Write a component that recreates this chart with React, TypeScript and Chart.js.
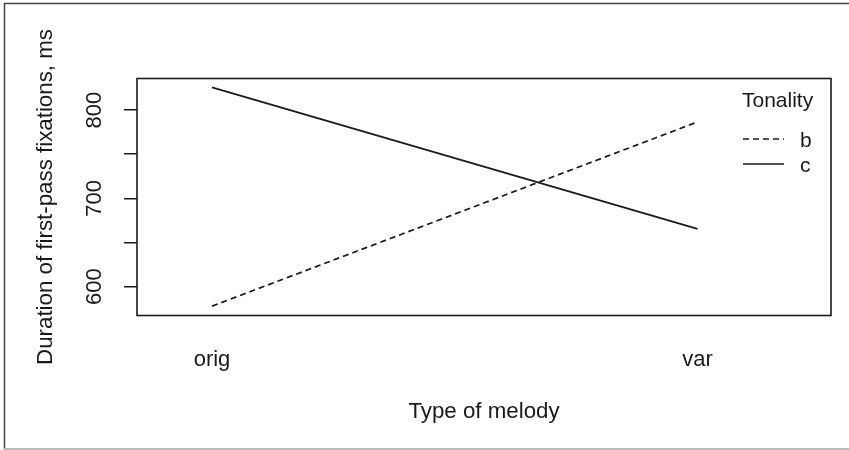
import React, { useEffect, useRef } from "react";
import { Chart, registerables } from "chart.js";

Chart.register(...registerables);

const categories = ["orig", "var"];
const seriesLabels = ["b", "c"];
const seriesB = [578, 786.5];
const seriesC = [825.7, 665.5];
const yTicks = [600, 650, 700, 750, 800];
const yLabelled = [600, 700, 800];
const legendTitle = "Tonality";
const xTitle = "Type of melody";
const yTitle = "Duration of first-pass fixations, ms";

const FONT = "'Liberation Sans', Arial, sans-serif";
const INK = "#1a1a1a";

const textPlugin = {
  id: "rText",
  afterDraw(chart: any) {
    const ctx = chart.ctx;
    const ca = chart.chartArea;
    const ys = chart.scales.y;
    const xs = chart.scales.x;
    ctx.save();
    // outer frame
    ctx.strokeStyle = "#444";
    ctx.lineWidth = 1.5;
    ctx.beginPath();
    ctx.moveTo(4.5, 450);
    ctx.lineTo(4.5, 3.5);
    ctx.lineTo(849, 3.5);
    ctx.stroke();
    ctx.strokeStyle = "#bbb";
    ctx.lineWidth = 2;
    ctx.beginPath();
    ctx.moveTo(4, 449);
    ctx.lineTo(849, 449);
    ctx.stroke();
    // plot box
    ctx.strokeStyle = INK;
    ctx.lineWidth = 1.6;
    ctx.strokeRect(ca.left, ca.top, ca.right - ca.left, ca.bottom - ca.top);
    ctx.fillStyle = INK;
    ctx.font = `22px ${FONT}`;
    // y tick labels, rotated
    ctx.textAlign = "center";
    ctx.textBaseline = "alphabetic";
    yLabelled.forEach((v) => {
      const py = ys.getPixelForValue(v);
      ctx.save();
      ctx.translate(101, py);
      ctx.rotate(-Math.PI / 2);
      ctx.fillText(String(v), 0, 0);
      ctx.restore();
    });
    // x tick labels
    categories.forEach((c, i) => {
      const px = xs.getPixelForValue(i + 1);
      ctx.fillText(c, px, 366);
    });
    // titles
    ctx.font = `22.3px ${FONT}`;
    ctx.fillText(xTitle, (ca.left + ca.right) / 2, 418);
    ctx.save();
    ctx.translate(52, (ca.top + ca.bottom) / 2);
    ctx.rotate(-Math.PI / 2);
    ctx.fillText(yTitle, 0, 0);
    ctx.restore();
    // legend
    ctx.font = `21px ${FONT}`;
    ctx.textAlign = "left";
    ctx.fillText(legendTitle, 742, 107);
    const rows = [139, 164];
    chart.data.datasets.forEach((ds: any, i: number) => {
      ctx.strokeStyle = INK;
      ctx.lineWidth = 1.7;
      ctx.setLineDash(ds.borderDash || []);
      ctx.beginPath();
      ctx.moveTo(743, rows[i]);
      ctx.lineTo(784, rows[i]);
      ctx.stroke();
      ctx.setLineDash([]);
      ctx.fillText(ds.label, 800, rows[i] + 7.5);
    });
    ctx.restore();
  },
};

export default function App() {
  const ref = useRef<HTMLCanvasElement | null>(null);
  useEffect(() => {
    if (!ref.current) return;
    const chart = new Chart(ref.current, {
      type: "line",
      data: {
        datasets: [
          {
            label: seriesLabels[0],
            data: seriesB.map((v, i) => ({ x: i + 1, y: v })),
            borderColor: INK,
            borderWidth: 1.7,
            borderDash: [6, 4],
            pointRadius: 0,
            fill: false,
          },
          {
            label: seriesLabels[1],
            data: seriesC.map((v, i) => ({ x: i + 1, y: v })),
            borderColor: INK,
            borderWidth: 1.7,
            pointRadius: 0,
            fill: false,
          },
        ],
      },
      options: {
        animation: false,
        responsive: false,
        devicePixelRatio: 1,
        layout: { padding: { left: 0, top: 78.5, right: 18, bottom: 0 } },
        plugins: { legend: { display: false }, tooltip: { enabled: false } },
        scales: {
          x: {
            type: "linear",
            min: 0.8455,
            max: 2.275,
            afterBuildTicks: (s: any) => {
              s.ticks = categories.map((_, i) => ({ value: i + 1 }));
            },
            afterFit: (s: any) => {
              s.height = 134.5;
            },
            ticks: { display: false },
            grid: { display: false, drawTicks: false },
            border: { display: false },
          },
          y: {
            min: 567.4,
            max: 835.7,
            afterBuildTicks: (s: any) => {
              s.ticks = yTicks.map((v) => ({ value: v }));
            },
            afterFit: (s: any) => {
              s.width = 137;
            },
            ticks: { display: false },
            grid: {
              drawOnChartArea: false,
              drawTicks: true,
              tickLength: 13,
              color: INK,
              lineWidth: 1.5,
            },
            border: { display: false },
          },
        },
      },
      plugins: [textPlugin],
    });
    return () => chart.destroy();
  }, []);
  return (
    <div style={{ position: "fixed", left: 0, top: 0, width: 849, height: 450, background: "#fff" }}>
      <canvas ref={ref} width={849} height={450} />
    </div>
  );
}
